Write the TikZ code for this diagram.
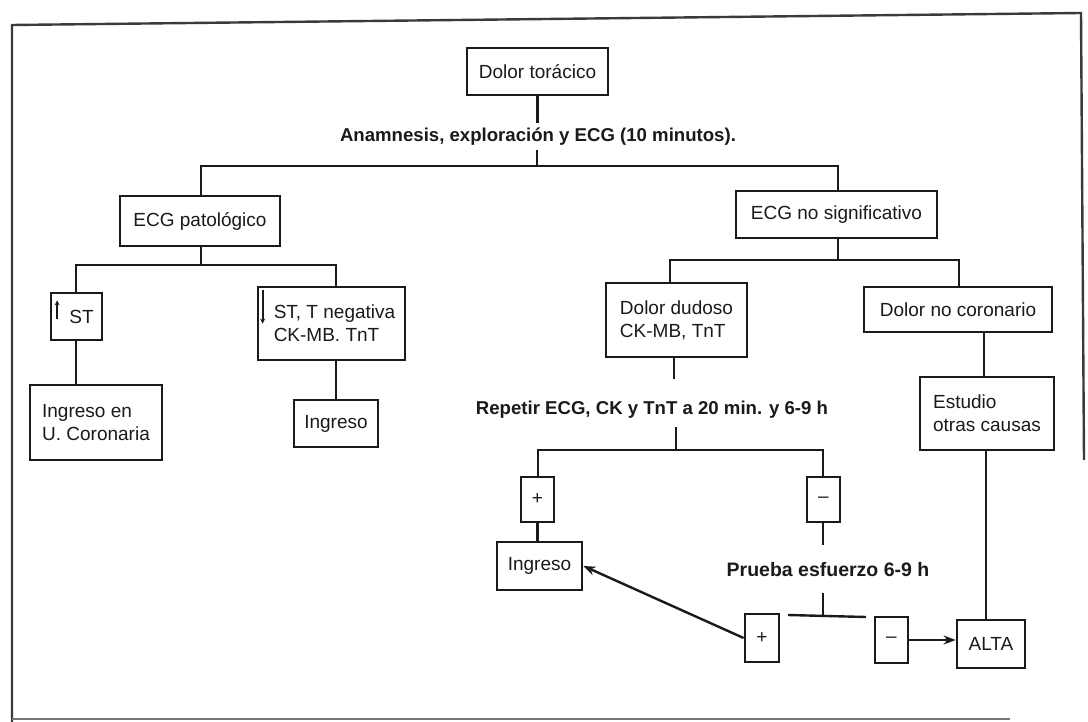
\documentclass[tikz,border=0pt]{standalone}
\usepackage{fontspec}
\setmainfont{Liberation Sans}
\usetikzlibrary{arrows.meta,calc}
\definecolor{ink}{HTML}{1A1A1A}
\definecolor{framec}{HTML}{3A3A3A}
\begin{document}
\begin{tikzpicture}[x=1pt,y=-1pt,
  box/.style={draw=ink, line width=2.8pt, inner sep=0pt, align=left,
    text=ink, font=\fontsize{19}{23}\selectfont},
  lbl/.style={inner sep=0pt, text=ink, font=\bfseries\fontsize{18.6}{22}\selectfont},
  ln/.style={draw=ink, line width=2.4pt},
  arr/.style={ln, -{Stealth[length=12pt,width=9pt]}},
  tiny/.style={draw=ink, line width=1.8pt, -{Stealth[length=5pt,width=5pt]}}]
\useasboundingbox (0,0) rectangle (1088,722);
\fill[white] (0,0) rectangle (1088,722);
% frame
\draw[framec, line width=2.4pt] (12,722) -- (12,25) -- (1081,13) -- (1084,460);
\draw[framec!70, line width=2pt] (12,719) -- (1010,719);

% nodes
\node[box, minimum width=141pt, minimum height=47pt] (dolor) at (537.5,71.5) {Dolor torácico};
\node[lbl] (anam) at (538,137) {Anamnesis, exploración y ECG (10 minutos).};
\node[box, minimum width=160pt, minimum height=50pt] (ecgpat) at (200,221) {ECG patológico};
\node[box, minimum width=201pt, minimum height=47pt] (ecgno) at (836.5,214.5) {ECG no significativo};
\node[box, minimum width=51pt, minimum height=47pt] (st) at (76.5,316.5) {\hspace*{10pt}ST};
\node[box, minimum width=147pt, minimum height=73pt] (stneg) at (331.5,323.5) {\hspace*{6pt}ST, T negativa\\\hspace*{6pt}CK-MB. TnT};
\node[box, minimum width=132pt, minimum height=75pt] (ingcor) at (96,422.5) {Ingreso en\\U. Coronaria};
\node[box, minimum width=84pt, minimum height=47pt] (ing1) at (336,423.5) {Ingreso};
\node[box, minimum width=141pt, minimum height=74pt] (dudoso) at (676.5,320) {Dolor dudoso\\CK-MB, TnT};
\node[box, minimum width=188pt, minimum height=45pt] (nocor) at (958,309.5) {Dolor no coronario};
\node[lbl] (repetir) at (652,410) {Repetir ECG, CK y TnT a 20 min. y 6-9 h};
\node[box, minimum width=134pt, minimum height=73pt] (estudio) at (987,413.5) {Estudio\\otras causas};
\node[box, minimum width=33pt, minimum height=45pt] (plus1) at (537.5,499.5) {+};
\node[box, minimum width=33pt, minimum height=45pt] (minus1) at (823.5,499.5) {–};
\node[box, minimum width=85pt, minimum height=48pt] (ing2) at (539.5,566) {Ingreso};
\node[lbl, font=\bfseries\fontsize{19.5}{23}\selectfont] (prueba) at (828,570) {Prueba esfuerzo 6-9 h};
\node[box, minimum width=34pt, minimum height=48pt] (plus2) at (762,638) {+};
\node[box, minimum width=33pt, minimum height=46pt] (minus2) at (891.5,640) {–};
\node[box, minimum width=68pt, minimum height=48pt] (alta) at (991,644) {ALTA};

% small arrows inside boxes
\draw[tiny] ($(st.south west)+(7.5,-22)$) -- ($(st.south west)+(7.5,-41)$);
\draw[tiny] ($(stneg.north west)+(6,4)$) -- ($(stneg.north west)+(6,38)$);

% junction coordinates
\coordinate (a1) at (537,123);
\coordinate (a2) at (537,150);
\coordinate (b0l) at (201,166);
\coordinate (b0r) at (838,166);
\coordinate (p1l) at (76,265);
\coordinate (p1r) at (336,265);
\coordinate (n1l) at (670,260);
\coordinate (n1r) at (959,260);
\coordinate (r1) at (674,379);
\coordinate (r2) at (676,427);
\coordinate (q1l) at (538,450);
\coordinate (q1r) at (823,450);
\coordinate (c1) at (823,545);
\coordinate (c2) at (823,593);
\coordinate (c3) at (823,615);
\coordinate (h1) at (788,615);
\coordinate (h2) at (866,617);

% connectors
\draw[ln] (dolor.south) -- (dolor.south |- a1);
\draw[ln] (a2) -- (a2 |- b0l);
\draw[ln] (ecgpat.north -| b0l) -- (b0l) -- (b0r) -- (ecgno.north -| b0r);
\draw[ln] (ecgpat.south -| b0l) -- (b0l |- p1l);
\draw[ln] (st.north -| p1l) -- (p1l) -- (p1r) -- (stneg.north -| p1r);
\draw[ln] (st.south -| p1l) -- (p1l |- ingcor.north);
\draw[ln] (ing1.north) -- (ing1.north |- stneg.south);
\draw[ln] (ecgno.south -| b0r) -- (b0r |- n1l);
\draw[ln] (dudoso.north -| n1l) -- (n1l) -- (n1r) -- (nocor.north -| n1r);
\draw[ln] (dudoso.south -| r1) -- (r1);
\draw[ln] (r2) -- (r2 |- q1l);
\draw[ln] (plus1.north -| q1l) -- (q1l) -- (q1r) -- (minus1.north -| q1r);
\draw[ln] (plus1.south) -- (plus1.south |- ing2.north);
\draw[ln] (minus1.south -| c1) -- (c1);
\draw[ln] (c2) -- (c3);
\draw[ln] (h1) -- (h2);
\draw[ln] (estudio.north -| 984,0) -- (nocor.south -| 984,0);
\draw[ln] (estudio.south -| 986,0) -- (alta.north -| 986,0);
\draw[arr] (plus2.west) -- (ing2.east);
\draw[arr] (minus2.east) -- (minus2.east -| alta.west);
\end{tikzpicture}
\end{document}
